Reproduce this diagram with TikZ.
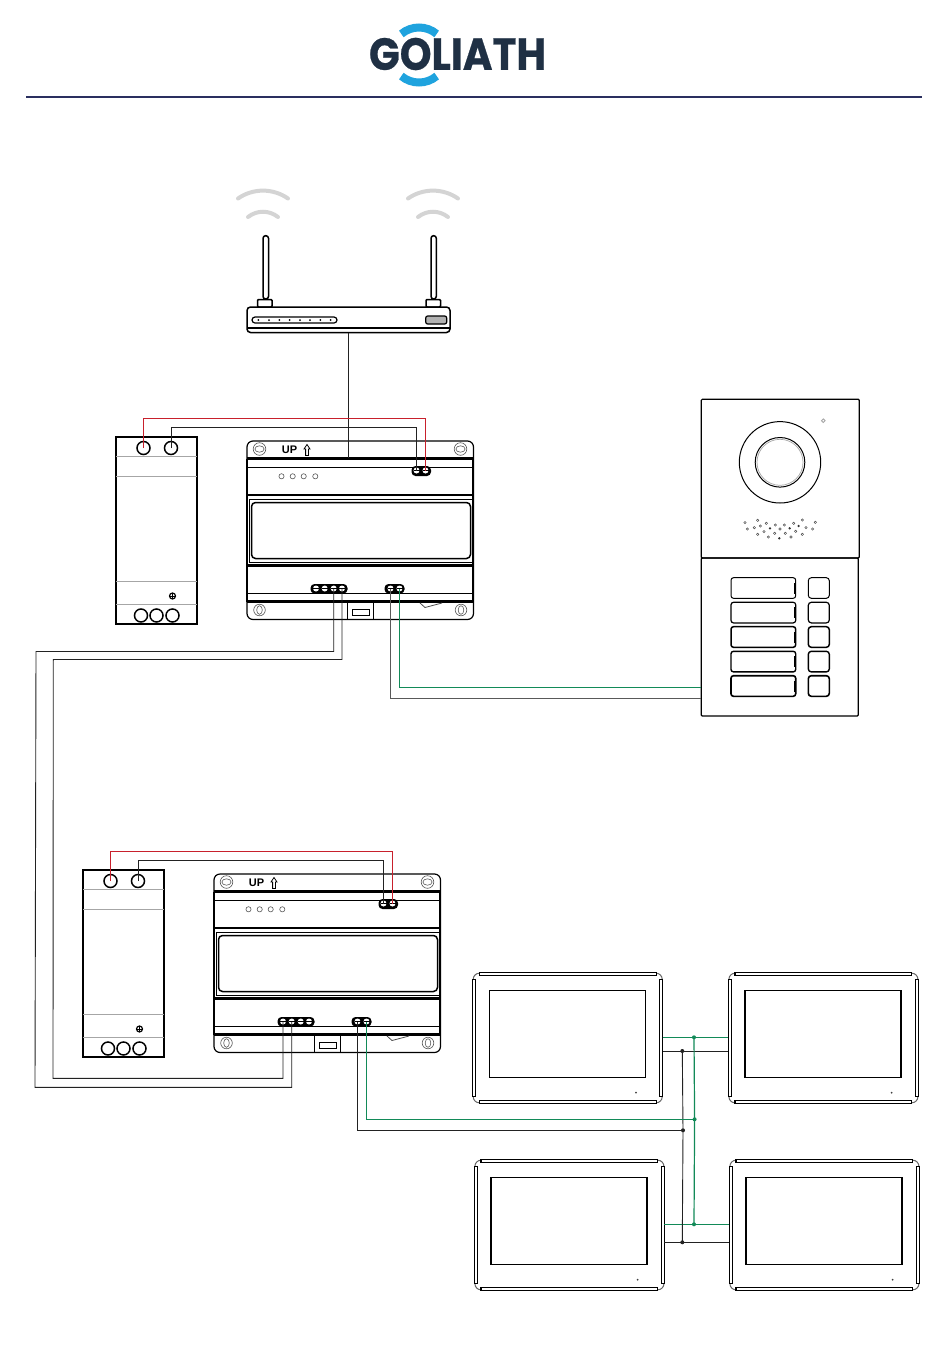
\documentclass[tikz,border=0pt]{standalone}
\usepackage{fontspec}
\usepackage{graphicx}
\newfontfamily\logofont[BoldFeatures={FakeBold=0.6}]{Poppins}
\setmainfont{Liberation Sans}
\definecolor{navy}{HTML}{1F3044}
\definecolor{rulec}{HTML}{2A2F5F}
\definecolor{skyb}{HTML}{1FA3DE}
\definecolor{wgreen}{HTML}{128A58}
\definecolor{wred}{HTML}{C8202C}
\definecolor{wblack}{HTML}{222222}
\definecolor{wifi}{HTML}{D4D4D4}
\tikzset{
  x=1pt,y=-1pt,
  thin line/.style={draw=black,line width=0.8pt},
  mid line/.style={draw=black,line width=1.2pt},
  heavy line/.style={draw=black,line width=2.4pt},
  gray line/.style={draw=gray!70,line width=0.9pt},
  screw line/.style={draw=black!65,line width=0.6pt},
  redwire/.style={draw=wred,line width=1pt},
  blackwire/.style={draw=wblack,line width=0.9pt},
  greenwire/.style={draw=wgreen,line width=1.2pt},
  wifiarc/.style={draw=wifi,line width=4pt,line cap=round},
  junction/.style={circle,inner sep=0pt,minimum size=4pt,fill=#1},
  bezelbar/.style={draw=black,line width=1.2pt,fill=white},
  screwt/.style={fill=black,rounded corners=4pt},
  psu/.pic={
    \draw[draw=black,line width=2pt] (0,0) rectangle (81,187);
    \draw[gray line] (0,19.5)--(81,19.5) (0,39.5)--(81,39.5) (0,167.5)--(81,167.5);
    \draw[draw=gray!70,line width=1.6pt] (0,144.5)--(81,144.5);
    \coordinate (-a) at (27.5,11);
    \coordinate (-b) at (55,11);
    \draw[mid line,line width=1.5pt] (-a) circle[radius=6.5] (-b) circle[radius=6.5];
    \draw[mid line,line width=1.5pt] (25,178.5) circle[radius=6.5] (40.5,178.5) circle[radius=6.5] (56.5,178.5) circle[radius=6.5];
    \draw[mid line] (56.5,159) circle[radius=3];
    \draw[thin line] (56.5,156)--(56.5,162) (53.5,159)--(59.5,159);
  },
  din/.pic={
    \draw[mid line,rounded corners=6pt] (0,0) rectangle (226.5,178.5);
    \draw[draw=black,line width=2pt] (0,17.5)--(0,160.5) (225.5,17.5)--(225.5,160.5);
    \draw[heavy line] (0,17.5)--(226.5,17.5) (0,54)--(226.5,54) (0,124.5)--(226.5,124.5) (0,160.5)--(226.5,160.5);
    \draw[thin line] (0,26.5)--(226.5,26.5) (0,152.5)--(226.5,152.5);
    \draw[thin line] (2,58) rectangle (225,121);
    \draw[mid line,line width=1.5pt,rounded corners=4pt] (4.5,61.5) rectangle (223.5,117.5);
    \foreach \sx in {12.5,213.5}{
      \draw[screw line] (\sx,8) circle[radius=6.3];
      \draw[screw line] (\sx,8) ellipse[x radius=4.6,y radius=3.2];
    }
    \foreach \sx in {12.5,214}{
      \draw[screw line] (\sx,169) circle[radius=5.8];
      \draw[screw line] (\sx,169) ellipse[x radius=2.8,y radius=4.3];
    }
    \node[font=\bfseries\fontsize{11pt}{11pt}\selectfont,inner sep=0pt] (-up) at (42.5,9) {UP};
    \draw[thin line] (60,3.5)--(63,8)--(61.4,8)--(61.4,14.5)--(58.6,14.5)--(58.6,8)--(57,8)--cycle;
    \foreach \lx in {34.5,45.7,56.7,68.3}{\draw[screw line] (\lx,35.3) circle[radius=2.6];}
    % terminal blocks
    \path[screwt] (164.5,25) rectangle (184,35);
    \path[screwt] (63.5,143) rectangle (100.5,152.5);
    \path[screwt] (137.5,143) rectangle (157.5,152.5);
    \foreach \tn/\tx/\ty in {p1/169.5/29.5,p2/178.5/29.5,b1/69/147.5,b2/77.7/147.5,b3/86.7/147.5,b4/95/147.5,c1/143.5/147.5,c2/152.5/147.5}{
      \coordinate (-\tn) at (\tx,\ty);
      \fill[white] (\tx,\ty) circle[radius=3];
      \draw[draw=black,line width=.7pt] (\tx-3,\ty)--(\tx+3,\ty);
    }
    % bottom latch
    \draw[thin line] (100.5,160.5)--(100.5,178.5) (126.5,160.5)--(126.5,178.5);
    \draw[thin line] (105.5,168.7) rectangle (122.3,174.7);
    \draw[draw=black!70,line width=.8pt] (173,162)--(178,166.5)--(195,162);
  },
  monitor/.pic={
    \draw[draw=gray!80!black,line width=1pt] (6.6,0.5) arc[start angle=-90,end angle=-180,radius=6.1];
    \draw[draw=gray!80!black,line width=1pt] (183.4,0.5) arc[start angle=-90,end angle=0,radius=6.1];
    \draw[draw=gray!80!black,line width=1pt] (6.6,130.1) arc[start angle=90,end angle=180,radius=6.1];
    \draw[draw=gray!80!black,line width=1pt] (183.4,130.1) arc[start angle=90,end angle=0,radius=6.1];
    \draw[bezelbar] (6.6,0) rectangle (183.4,2.7);
    \draw[bezelbar] (6.6,127.9) rectangle (183.4,130.6);
    \draw[bezelbar] (0,6.6) rectangle (3,124);
    \draw[bezelbar] (187,6.6) rectangle (190,124);
    \draw[mid line] (16.6,17.6) rectangle (172.6,104.6);
    \fill[black!75] (163.3,120) circle[radius=1];
    \coordinate (-lg) at (0,64.6);
    \coordinate (-rg) at (190,64.6);
  },
}
\begin{document}
\begin{tikzpicture}
\useasboundingbox (0,0) rectangle (950,1360);
\fill[white] (0,0) rectangle (950,1360);

% ---------- logo ----------
\draw[draw=skyb,line width=8pt] (419,55)++(230:27.5) arc[start angle=230,end angle=310,radius=27.5];
\draw[draw=skyb,line width=8pt] (419,55)++(130:27.5) arc[start angle=130,end angle=50,radius=27.5];
\node[inner sep=0pt,text=navy] (logo) at (457.5,54) {\resizebox{177pt}{32pt}{\logofont\bfseries GOLIATH}};
\draw[draw=rulec,line width=2pt] (26,97) -- (922,97);

% ---------- wifi ----------
\draw[wifiarc] (238,198.5) .. controls (253,188) and (273,188) .. (288,198.5);
\draw[wifiarc] (248,217) .. controls (257,210) and (269,210) .. (278,217);
\draw[wifiarc] (408,198.5) .. controls (423,188) and (443,188) .. (458,198.5);
\draw[wifiarc] (418,217) .. controls (427,210) and (439,210) .. (448,217);

% ---------- router ----------
\draw[mid line,line width=1.5pt,fill=white,rounded corners=2.6pt] (263,235.7) rectangle (268.5,299);
\draw[mid line,line width=1.5pt,fill=white,rounded corners=2.6pt] (431,235.7) rectangle (436.3,299);
\draw[mid line,line width=1.5pt,fill=white,rounded corners=1pt] (257.5,307) rectangle (272,299.5);
\draw[mid line,line width=1.5pt,fill=white,rounded corners=1pt] (426,307) rectangle (440.5,299.5);
\draw[mid line,line width=1.5pt,fill=white,rounded corners=3.5pt] (247,307) rectangle (450,332.5);
\draw[mid line,line width=2pt] (247,327.5) -- (450,327.5);
\draw[mid line,line width=1.2pt,rounded corners=3pt] (252,317) rectangle (337,323);
\foreach \dx in {258.3,269,279.3,289.7,300,310,320.3,330.7}{\fill[black] (\dx,320) circle[radius=1];}
\draw[mid line,fill=gray!60,rounded corners=2pt] (425.7,316) rectangle (446.7,324);
\coordinate (routerout) at (348.3,332.5);
\coordinate (d1in) at (348.3,458);

% ---------- modules ----------
\pic (p1) at (116,437) {psu};
\pic (d1) at (247,441) {din};
\pic (p2) at (83,870) {psu};
\pic (d2) at (214,874) {din};

% ---------- door station ----------
\draw[mid line,rounded corners=1pt] (701.3,399.3) rectangle (859.3,558);
\draw[mid line,rounded corners=1pt] (701.3,558) rectangle (858.3,716);
\coordinate (dsg) at (701.3,687.5);
\coordinate (dsk) at (701.3,698.5);
\draw[thin line,line width=1pt] (780,462.3) circle[radius=40.7];
\draw[thin line,line width=1pt] (780,462.3) circle[radius=24.8];
\draw[gray line,line width=.7pt] (780,462.3) circle[radius=23];
\draw[gray line] (823.3,420.7) circle[radius=1.8];
\foreach \hx/\hy in {165/398,203/391,229/400,172/417,193/413,211/408,222/425,203/433,256/405,254/430,235/441,270/417,283/405,286/430,311/400,303/441,337/390,317/424,337/433,348/413,368/417,376/397}{
  \draw[draw=black!70,line width=.5pt] ({690+\hx/3},{390+\hy/3}) circle[radius=1.2];}
\foreach \hx/\hy in {240/415,268/445,299/415,326/408}{
  \fill[black!80] ({690+\hx/3},{390+\hy/3}) circle[radius=1.3];}
\foreach \by/\bw in {577.7/1,602.3/1.2,626.7/1.5,651.3/1.4,675.7/1.6}{
  \draw[draw=black,line width=\bw pt,rounded corners=2.5pt] (731,\by) rectangle (795.7,\by+20.6);
  \draw[draw=black,line width=2pt] (795.4,\by+5) -- (795.4,\by+16);
  \draw[draw=black,line width=\bw pt,rounded corners=3pt] (808.3,\by) rectangle (829.3,\by+20.6);
}

% ---------- monitors ----------
\pic (m1) at (472.7,972.7) {monitor};
\pic (m2) at (728.4,972.7) {monitor};
\pic (m3) at (474.4,1159.7) {monitor};
\pic (m4) at (729.4,1159.7) {monitor};
\coordinate (m1kr) at (662.7,1051);
\coordinate (m2kl) at (728.4,1051);
\coordinate (m3kr) at (664.4,1242.3);
\coordinate (m4kl) at (729.4,1242.3);

% ---------- connectors ----------
\draw[blackwire] (routerout) -- (d1in);
\draw[redwire] (p1-a) -- ++(0,-29.4) -| (d1-p2);
\draw[blackwire] (p1-b) -- ++(0,-20.4) -| (d1-p1);
\draw[redwire] (p2-a) -- ++(0,-29.4) -| (d2-p2);
\draw[blackwire] (p2-b) -- ++(0,-20.4) -| (d2-p1);
% riser between modules
\draw[blackwire] (d1-b3) |- (36,651.5) -- (35,1087.3) -| (d2-b2);
\draw[blackwire] (d1-b4) |- (53.3,659.5) -- (53,1078.3) -| (d2-b1);
% door station
\draw[blackwire,draw=black!65] (d1-c1) |- (dsk);
\draw[greenwire] (d1-c2) |- (dsg);
% monitor bus
\draw[greenwire] (m1-rg) -- (m2-lg);
\draw[blackwire] (m1kr) -- (m2kl);
\draw[greenwire] (m3-rg) -- (m4-lg);
\draw[blackwire] (m3kr) -- (m4kl);
\coordinate (gtop) at (694,1037.3);
\coordinate (gmid) at (694.6,1119.3);
\coordinate (gbot) at (694,1224.3);
\coordinate (ktop) at (682.3,1051);
\coordinate (kmid) at (683,1130.3);
\coordinate (kbot) at (682.3,1242.3);
\draw[greenwire] (gtop) -- (gmid) -- (gbot);
\draw[blackwire] (ktop) -- (kmid) -- (kbot);
\draw[greenwire] (d2-c2) |- (gmid);
\draw[blackwire] (d2-c1) |- (kmid);
\node[junction=wgreen] (jg1) at (gtop) {};
\node[junction=wgreen] (jg2) at (gmid) {};
\node[junction=wgreen] (jg3) at (gbot) {};
\node[junction=wblack] (jk1) at (ktop) {};
\node[junction=wblack] (jk2) at (kmid) {};
\node[junction=wblack] (jk3) at (kbot) {};
\end{tikzpicture}
\end{document}
